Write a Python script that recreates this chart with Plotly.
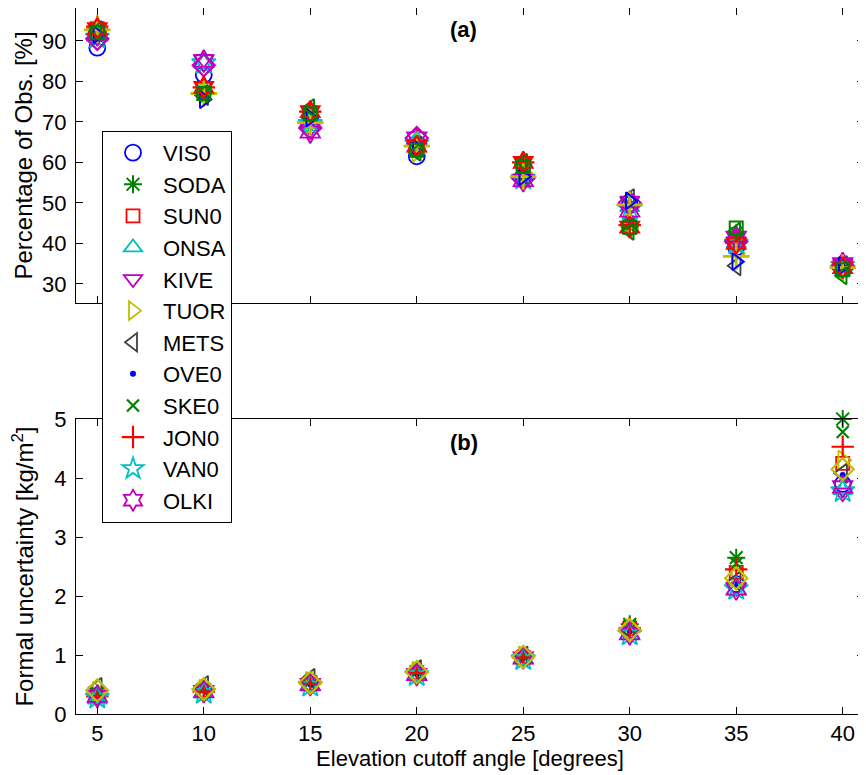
import plotly.graph_objects as go

elev = [5, 10, 15, 20, 25, 30, 35, 40]
stations = ["VIS0", "SODA", "SUN0", "ONSA", "KIVE", "TUOR", "METS", "OVE0", "SKE0", "JON0", "VAN0", "OLKI"]

# Panel (a): percentage of observations [%]
pct_VIS0 = [88.3, 81.6, 71.0, 61.5, 56.5, 49.5, 39.0, 34.0]
pct_SODA = [92.5, 77.5, 72.5, 63.0, 59.5, 44.0, 42.5, 33.5]
pct_SUN0 = [93.0, 78.0, 72.0, 64.5, 59.5, 44.0, 41.0, 34.0]
pct_ONSA = [91.5, 84.5, 69.5, 65.5, 57.0, 49.0, 40.0, 34.5]
pct_KIVE = [91.8, 85.5, 68.5, 64.0, 56.0, 50.5, 40.5, 35.0]
pct_TUOR = [92.5, 77.0, 69.5, 62.5, 57.5, 45.0, 37.5, 33.5]
pct_METS = [92.5, 76.5, 71.5, 64.0, 57.0, 51.0, 34.5, 34.5]
pct_OVE0 = [90.3, 76.0, 71.0, 64.0, 56.5, 50.0, 39.5, 34.5]
pct_SKE0 = [93.0, 77.0, 72.0, 63.0, 59.0, 45.0, 41.5, 33.5]
pct_JON0 = [93.5, 78.5, 72.5, 65.5, 60.0, 44.5, 40.5, 34.0]
pct_VAN0 = [90.8, 84.5, 69.5, 64.5, 56.0, 48.5, 40.0, 34.5]
pct_OLKI = [91.5, 85.0, 67.5, 66.0, 55.5, 48.0, 41.5, 35.0]
# further stations plotted without legend entries
pct_X1 = [90.5, 84.0, 68.5, 66.0, 56.0, 50.0, 40.5, 34.5]
pct_X2 = [92.7, 77.0, 69.8, 64.0, 56.5, 49.5, 36.8, 34.0]
pct_X3 = [91.5, 75.5, 71.0, 63.5, 56.5, 50.5, 35.5, 34.5]
pct_X4 = [92.5, 77.0, 73.5, 62.5, 60.0, 43.0, 43.0, 32.0]
pct_X5 = [93.0, 78.5, 72.5, 64.0, 60.0, 44.0, 40.0, 34.0]
pct_X6 = [92.0, 77.0, 72.0, 63.0, 59.0, 44.0, 43.8, 33.5]

# Panel (b): formal uncertainty [kg/m^2]
unc_VIS0 = [0.30, 0.38, 0.50, 0.68, 0.95, 1.40, 2.20, 3.90]
unc_SODA = [0.35, 0.42, 0.55, 0.72, 0.98, 1.52, 2.65, 5.00]
unc_SUN0 = [0.33, 0.40, 0.52, 0.70, 0.96, 1.45, 2.40, 4.25]
unc_ONSA = [0.25, 0.35, 0.47, 0.65, 0.93, 1.35, 2.10, 3.80]
unc_KIVE = [0.30, 0.38, 0.50, 0.68, 0.95, 1.38, 2.15, 3.75]
unc_TUOR = [0.38, 0.42, 0.55, 0.72, 0.98, 1.45, 2.35, 4.30]
unc_METS = [0.45, 0.48, 0.60, 0.75, 0.98, 1.42, 2.25, 4.08]
unc_OVE0 = [0.30, 0.40, 0.50, 0.68, 0.95, 1.40, 2.20, 4.05]
unc_SKE0 = [0.35, 0.42, 0.55, 0.72, 0.98, 1.50, 2.55, 4.78]
unc_JON0 = [0.30, 0.38, 0.52, 0.70, 0.96, 1.45, 2.45, 4.53]
unc_VAN0 = [0.28, 0.36, 0.48, 0.66, 0.93, 1.35, 2.12, 3.78]
unc_OLKI = [0.30, 0.38, 0.50, 0.67, 0.95, 1.36, 2.12, 3.85]
unc_X1 = [0.40, 0.42, 0.53, 0.71, 0.97, 1.42, 2.30, 4.15]

x_ticks = [5, 10, 15, 20, 25, 30, 35, 40]
pct_ticks = [30, 40, 50, 60, 70, 80, 90]
unc_ticks = [0, 1, 2, 3, 4, 5]

pct = [pct_VIS0, pct_SODA, pct_SUN0, pct_ONSA, pct_KIVE, pct_TUOR, pct_METS, pct_OVE0, pct_SKE0, pct_JON0, pct_VAN0, pct_OLKI]
unc = [unc_VIS0, unc_SODA, unc_SUN0, unc_ONSA, unc_KIVE, unc_TUOR, unc_METS, unc_OVE0, unc_SKE0, unc_JON0, unc_VAN0, unc_OLKI]

B, G, R, C, M, Y, K = "#0000FF", "#008000", "#FF0000", "#00BFBF", "#BF00BF", "#BFBF00", "#404040"
styles = [
    ("circle-open", B, 16, 1.8),
    ("asterisk-open", G, 15, 2.0),
    ("square-open", R, 13, 1.8),
    ("triangle-up-open", C, 17, 1.8),
    ("triangle-down-open", M, 17, 1.8),
    ("triangle-right-open", Y, 17, 1.8),
    ("triangle-left-open", K, 17, 1.8),
    ("circle", B, 6, 0),
    ("x-thin-open", G, 12, 2.2),
    ("cross-thin-open", R, 16, 2.2),
    ("star-open", C, 18, 1.8),
    ("hexagram-open", M, 17, 1.8),
]
extra_styles_top = [
    ("diamond-open", M, 17, 2.2, pct_X1),
    ("cross-thin-open", Y, 19, 2.8, pct_X2),
    ("triangle-right-open", B, 15, 2.0, pct_X3),
    ("triangle-left-open", G, 15, 2.0, pct_X4),
    ("hexagram-open", R, 16, 2.2, pct_X5),
    ("square-open", G, 13, 2.0, pct_X6),
]

fig = go.Figure()

def mk(sym, col, size, lw):
    return dict(symbol=sym, color=col, size=size, line=dict(color=col, width=lw))

for name, yv, st in zip(stations, pct, styles):
    fig.add_trace(go.Scatter(x=elev, y=yv, mode="markers", name=name, legendgroup=name,
                             marker=mk(*st), xaxis="x", yaxis="y2", cliponaxis=False))
for sym, col, size, lw, yv in extra_styles_top:
    fig.add_trace(go.Scatter(x=elev, y=yv, mode="markers", showlegend=False,
                             marker=mk(sym, col, size, lw), xaxis="x", yaxis="y2", cliponaxis=False))
for name, yv, st in zip(stations, unc, styles):
    fig.add_trace(go.Scatter(x=elev, y=yv, mode="markers", name=name, legendgroup=name, showlegend=False,
                             marker=mk(*st), xaxis="x2", yaxis="y", cliponaxis=False))
fig.add_trace(go.Scatter(x=elev, y=unc_X1, mode="markers", showlegend=False,
                         marker=mk("diamond-open", Y, 17, 2.2), xaxis="x2", yaxis="y", cliponaxis=False))

FAM = "Liberation Sans, Arial, sans-serif"
font = dict(family=FAM, size=22, color="black")
yfont = dict(family=FAM, size=24, color="black")
axis_common = dict(showline=True, linecolor="black", linewidth=1, mirror="ticks", ticks="inside",
                   ticklen=7, tickcolor="black", showgrid=False, zeroline=False,
                   tickfont=font, automargin=False)

fig.update_layout(
    width=858, height=767,
    margin=dict(l=68, r=2, t=0, b=61),
    paper_bgcolor="white", plot_bgcolor="white",
    font=font,
    xaxis=dict(range=[4, 41], tickvals=x_ticks, showticklabels=False, anchor="y2", **axis_common),
    xaxis2=dict(range=[4, 41], tickvals=x_ticks, anchor="y", ticklabelstandoff=0,
                title=dict(text="Elevation cutoff angle [degrees]", font=font, standoff=0), **axis_common),
    yaxis2=dict(domain=[0.5822, 1.0], range=[25.3, 98.1], tickvals=pct_ticks, anchor="x", ticklabelstandoff=4,
                title=dict(text="Percentage of Obs. [%]", font=yfont, standoff=2), **axis_common),
    yaxis=dict(domain=[0.0, 0.4178], range=[0, 5], tickvals=unc_ticks, anchor="x2", ticklabelstandoff=4,
               title=dict(text="Formal uncertainty [kg/m<sup>2</sup>]", font=yfont, standoff=14), **axis_common),
    legend=dict(x=0.033, y=0.826, xanchor="left", yanchor="top", bgcolor="white",
                bordercolor="black", borderwidth=1, font=font, tracegroupgap=5,
                itemwidth=50, traceorder="normal"),
    annotations=[
        dict(text="<b>(a)</b>", x=0.492, y=0.969, xref="paper", yref="paper", showarrow=False,
             xanchor="center", yanchor="middle", font=font),
        dict(text="<b>(b)</b>", x=0.492, y=0.384, xref="paper", yref="paper", showarrow=False,
             xanchor="center", yanchor="middle", font=font),
    ],
)

fig.write_html("out.html")
